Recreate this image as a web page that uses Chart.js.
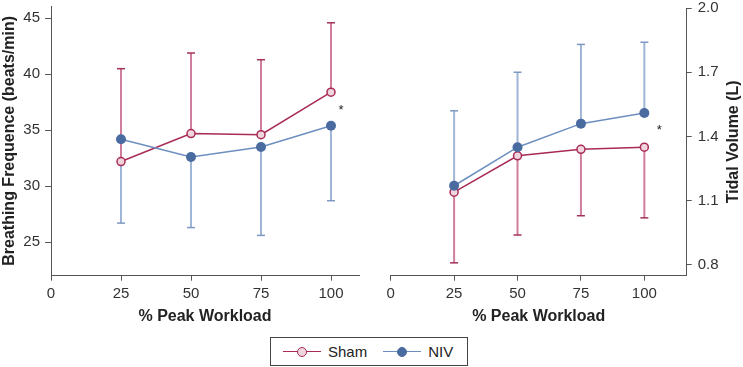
<!DOCTYPE html>
<html>
<head>
<meta charset="utf-8">
<script src="https://cdn.jsdelivr.net/npm/chart.js@4"></script>
<style>
  body { margin: 0; background: #fff; width: 743px; height: 367px; overflow: hidden; position: relative; font-family: "Liberation Sans", Arial, sans-serif; }
  .panel { position: absolute; top: 0; height: 330px; }
  #legend { position: absolute; left: 270px; top: 337px; width: 196px; height: 27px; border: 1px solid #444; display: flex; align-items: center; color: #222; font-size: 15px; }
  .item { display: flex; align-items: center; margin-left: 12px; }
  .item + .item { margin-left: 16px; }
  .sym { position: relative; width: 38px; height: 12px; margin-right: 7px; }
  .sym .ln { position: absolute; left: 0; right: 0; top: 5px; height: 1.5px; }
  .sym .dot { position: absolute; left: 14px; top: 1px; width: 8px; height: 8px; border-radius: 50%; border: 1.5px solid; }
</style>
</head>
<body>
<div class="panel" style="left:0;width:370px"><canvas id="left"></canvas></div>
<div class="panel" style="left:370px;width:373px"><canvas id="right"></canvas></div>
<div id="legend"></div>
<script>
// workload steps (% peak)
const workload = [25, 50, 75, 100];
const xTicks = [0, 25, 50, 75, 100];

// breathing frequency (beats/min), error = SD drawn one-sided
const bfSham = [32.2, 34.7, 34.6, 38.4];
const bfShamSd = [8.3, 7.2, 6.7, 6.2];
const bfNiv = [34.2, 32.6, 33.5, 35.4];
const bfNivSd = [7.5, 6.3, 7.9, 6.7];
const bfTicks = [25, 30, 35, 40, 45];

// tidal volume (L)
const vtSham = [1.14, 1.31, 1.34, 1.35];
const vtShamSd = [0.33, 0.37, 0.31, 0.33];
const vtNiv = [1.17, 1.35, 1.46, 1.51];
const vtNivSd = [0.35, 0.35, 0.37, 0.33];
const vtTicks = [0.8, 1.1, 1.4, 1.7, 2.0];

// significance marks [x, y]
const bfStar = [103.6, 36.8];
const vtStar = [105.9, 1.43];

const seriesNames = ['Sham', 'NIV'];

const SHAM = { line: '#a82a55', fill: '#efd5dc', bar: '#cf7d9c', cap: '#a3315a' };
const NIV = { line: '#6d8fc0', fill: '#4a6ba0', bar: '#9fb5d6', cap: '#7d98c3' };
const FONT = '"Liberation Sans", Arial, sans-serif';

function pts(vals) {
    return vals.map((v, i) => ({ x: workload[i], y: v }));
}

const errorBars = {
    id: 'errorBars',
    beforeDatasetsDraw(chart) {
        const ctx = chart.ctx;
        const xs = chart.scales.x, ys = chart.scales.y;
        chart.data.datasets.forEach(ds => {
            ctx.save();
            ds.data.forEach((p, i) => {
                const px = xs.getPixelForValue(p.x);
                const y0 = ys.getPixelForValue(p.y);
                const y1 = ys.getPixelForValue(p.y + ds.errDir * ds.sd[i]);
                ctx.strokeStyle = ds.barColor;
                ctx.lineWidth = 2;
                ctx.beginPath();
                ctx.moveTo(px, y0);
                ctx.lineTo(px, y1);
                ctx.stroke();
                ctx.strokeStyle = ds.capColor;
                ctx.lineWidth = 1.5;
                ctx.beginPath();
                ctx.moveTo(px - 4, y1);
                ctx.lineTo(px + 4, y1);
                ctx.stroke();
            });
            ctx.restore();
        });
    },
    afterDatasetsDraw(chart, args, opts) {
        const ctx = chart.ctx;
        ctx.save();
        ctx.fillStyle = '#222';
        ctx.font = '13px ' + FONT;
        ctx.textAlign = 'center';
        ctx.textBaseline = 'middle';
        ctx.fillText('*', chart.scales.x.getPixelForValue(opts.star[0]), chart.scales.y.getPixelForValue(opts.star[1]));
        ctx.restore();
    },
    afterDraw(chart, args, opts) {
        // right-hand axis title reads bottom-to-top like the left one
        if (!opts.rightTitle) return;
        const ctx = chart.ctx;
        const area = chart.chartArea;
        ctx.save();
        ctx.translate(chart.width - 9, (area.top + area.bottom) / 2);
        ctx.rotate(-Math.PI / 2);
        ctx.fillStyle = '#222';
        ctx.font = 'bold 16px ' + FONT;
        ctx.textAlign = 'center';
        ctx.textBaseline = 'middle';
        ctx.fillText(opts.rightTitle, 0, 0);
        ctx.restore();
    }
};

function makeDataset(label, vals, sd, dir, c, hollow) {
    return {
        label: label,
        data: pts(vals),
        sd: sd,
        errDir: dir,
        barColor: c.bar,
        capColor: c.cap,
        borderColor: c.line,
        borderWidth: 1.5,
        pointBackgroundColor: c.fill,
        pointBorderColor: hollow ? c.line : c.fill,
        pointBorderWidth: hollow ? 1.5 : 0,
        pointRadius: hollow ? 4 : 5,
        tension: 0
    };
}

function makeChart(id, cfg) {
    const onLeft = cfg.yPos === 'left';
    const yScale = {
        type: 'linear',
        position: cfg.yPos,
        min: cfg.yMin,
        max: cfg.yMax,
        afterBuildTicks: s => { s.ticks = cfg.yTicks.map(v => ({ value: v })); },
        afterFit: s => { s.width = cfg.yWidth; s.paddingTop = 0; s.paddingBottom = 0; },
        border: { display: true, color: '#555', width: 1 },
        grid: { drawOnChartArea: false, drawTicks: true, tickLength: cfg.yTickLen, color: '#555' },
        ticks: { color: '#333', padding: cfg.yPad, font: { size: 15, family: FONT }, callback: v => cfg.yFmt(v) },
        title: { display: onLeft, text: cfg.yTitle, color: '#222', padding: 0, font: { size: 16, weight: 'bold', family: FONT } }
    };
    return new Chart(document.getElementById(id), {
        type: 'line',
        data: { datasets: cfg.datasets },
        options: {
            responsive: false,
            animation: false,
            devicePixelRatio: 1,
            layout: { padding: cfg.padding },
            plugins: {
                legend: { display: false },
                tooltip: { enabled: false },
                errorBars: { star: cfg.star, rightTitle: onLeft ? null : cfg.yTitle }
            },
            scales: {
                x: {
                    type: 'linear',
                    min: 0,
                    max: cfg.xMax,
                    afterBuildTicks: s => { s.ticks = xTicks.map(v => ({ value: v })); },
                    afterFit: s => { s.height = 54.3; s.paddingLeft = 0; s.paddingRight = 0; },
                    border: { display: true, color: '#555', width: 1 },
                    grid: { drawOnChartArea: false, drawTicks: true, tickLength: 5, color: '#555' },
                    ticks: { color: '#333', padding: 4, maxRotation: 0, font: { size: 15, family: FONT } },
                    title: { display: true, text: '% Peak Workload', color: '#222', padding: { top: 0, bottom: 4 }, font: { size: 16, weight: 'bold', family: FONT } }
                },
                y: yScale
            }
        },
        plugins: [errorBars]
    });
}

function sizeCanvas(id, w, h) {
    const c = document.getElementById(id);
    c.width = w; c.height = h;
    c.style.width = w + 'px'; c.style.height = h + 'px';
}

sizeCanvas('left', 370, 330);
sizeCanvas('right', 373, 330);

makeChart('left', {
    datasets: [
        makeDataset('Sham', bfSham, bfShamSd, 1, SHAM, true),
        makeDataset('NIV', bfNiv, bfNivSd, -1, NIV, false)
    ].reverse(),
    yPos: 'left', yMin: 22, yMax: 46.1, yTicks: bfTicks, yWidth: 51, yPad: 5, yTickLen: 6,
    yFmt: v => String(v),
    yTitle: 'Breathing Frequence (beats/min)',
    xMax: 110,
    padding: { left: 0, right: 11, top: 6, bottom: 0 },
    star: bfStar
});

makeChart('right', {
    datasets: [
        makeDataset('Sham', vtSham, vtShamSd, -1, SHAM, true),
        makeDataset('NIV', vtNiv, vtNivSd, 1, NIV, false)
    ].reverse(),
    yPos: 'right', yMin: 0.75, yMax: 2.0, yTicks: vtTicks, yWidth: 56.3, yPad: 6, yTickLen: 5,
    yFmt: v => v.toFixed(1),
    yTitle: 'Tidal Volume (L)',
    xMax: 116.7,
    padding: { left: 20.7, right: 0, top: 8, bottom: 0 },
    star: vtStar
});

// shared legend
const legend = document.getElementById('legend');
[SHAM, NIV].forEach((c, i) => {
    const item = document.createElement('div');
    item.className = 'item';
    const hollow = i === 0;
    item.innerHTML = `<span class="sym"><span class="ln" style="background:${c.line}"></span>` +
        `<span class="dot" style="background:${c.fill};border-color:${hollow ? c.line : c.fill}"></span></span>${seriesNames[i]}`;
    legend.appendChild(item);
});
</script>
</body>
</html>
